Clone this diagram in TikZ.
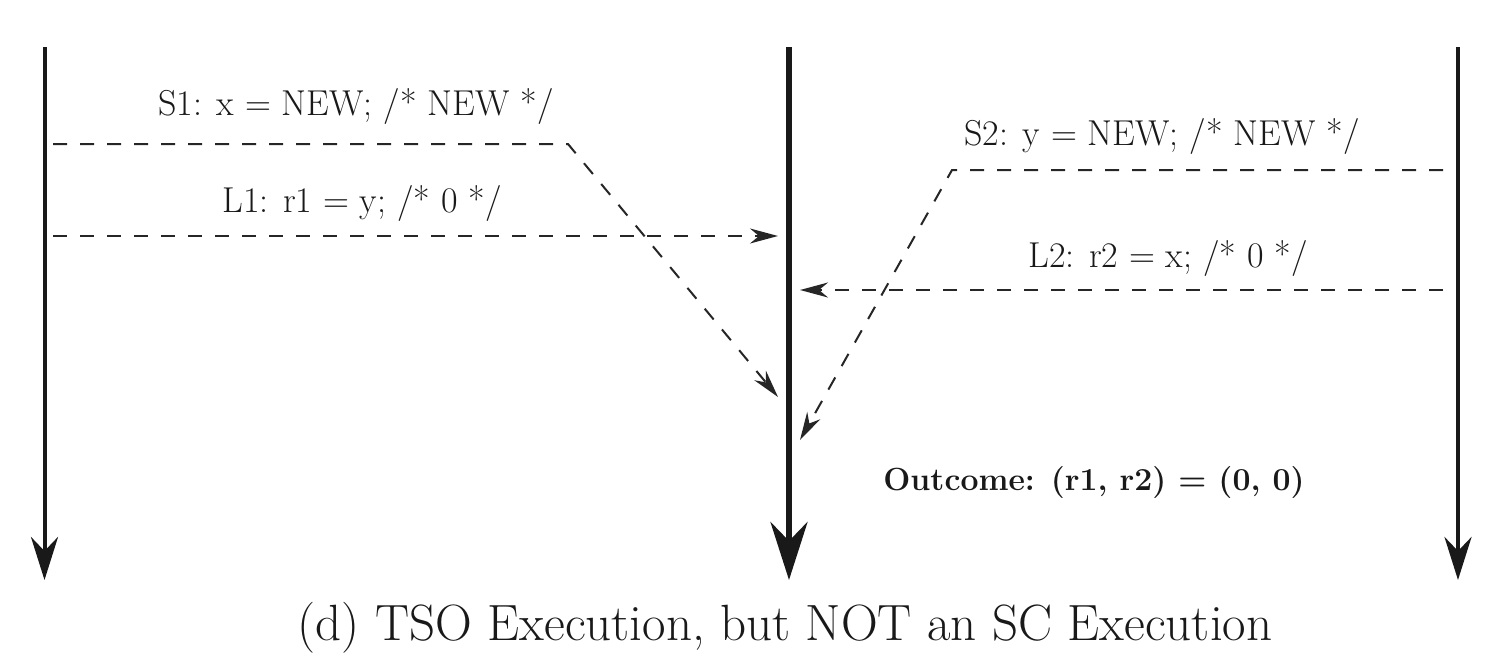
\documentclass[tikz,border=0pt]{standalone}
\usepackage{fontspec}
\usetikzlibrary{arrows.meta}
\begin{document}
\begin{tikzpicture}[x=0.5pt,y=-0.5pt,
  proc/.style={line width=2pt, draw=black!90, -{Stealth[length=21.5pt,width=13.5pt,inset=7pt]}},
  mainproc/.style={line width=3pt, draw=black!90, -{Stealth[length=29pt,width=18.5pt,inset=9.5pt]}},
  msg/.style={line width=1pt, draw=black!85, dash pattern=on 7pt off 6.5pt, -{Stealth[length=14pt,width=7.5pt,inset=4.5pt]}},
  lbl/.style={anchor=base, inner sep=0pt, text=black!90, font=\fontsize{18}{21}\selectfont},
  outlbl/.style={anchor=base, inner sep=0pt, text=black!90, font=\fontsize{16}{19}\selectfont\bfseries},
  caplbl/.style={anchor=base, inner sep=0pt, text=black!90, font=\fontsize{25.5}{30}\selectfont}]
\useasboundingbox (0,0) rectangle (1494,664);
% processor time lines
\coordinate (A0) at (44.5,47);  \coordinate (A1) at (44.5,580);
\coordinate (B0) at (789,47);   \coordinate (B1) at (789,580);
\coordinate (C0) at (1458,47);  \coordinate (C1) at (1458,580);
\draw[proc] (A0) -- (A1);
\draw[mainproc] (B0) -- (B1);
\draw[proc] (C0) -- (C1);
% messages
\coordinate (s1a) at (53,144);   \coordinate (s1k) at (568,144);  \coordinate (s1e) at (778,397);
\coordinate (l1a) at (53,236);   \coordinate (l1e) at (778,236);
\coordinate (s2a) at (1443,170); \coordinate (s2k) at (952,170);  \coordinate (s2e) at (800,440);
\coordinate (l2a) at (1443,290); \coordinate (l2e) at (800,290);
\draw[msg] (s1a) -- (s1k) -- (s1e);
\draw[msg] (l1a) -- (l1e);
\draw[msg] (s2a) -- (s2k) -- (s2e);
\draw[msg] (l2a) -- (l2e);
% labels
\node[lbl] (ts1) at (356,115) {S1: x = NEW; /* NEW */};
\node[lbl] (tl1) at (362,212) {L1: r1 = y; /* 0 */};
\node[lbl] (ts2) at (1162,145) {S2: y = NEW; /* NEW */};
\node[lbl] (tl2) at (1168,267) {L2: r2 = x; /* 0 */};
\node[outlbl] (tout) at (1094,490) {Outcome: (r1, r2) = (0, 0)};
\node[caplbl] (tcap) at (785,640) {(d) TSO Execution, but NOT an SC Execution};
\end{tikzpicture}
\end{document}
